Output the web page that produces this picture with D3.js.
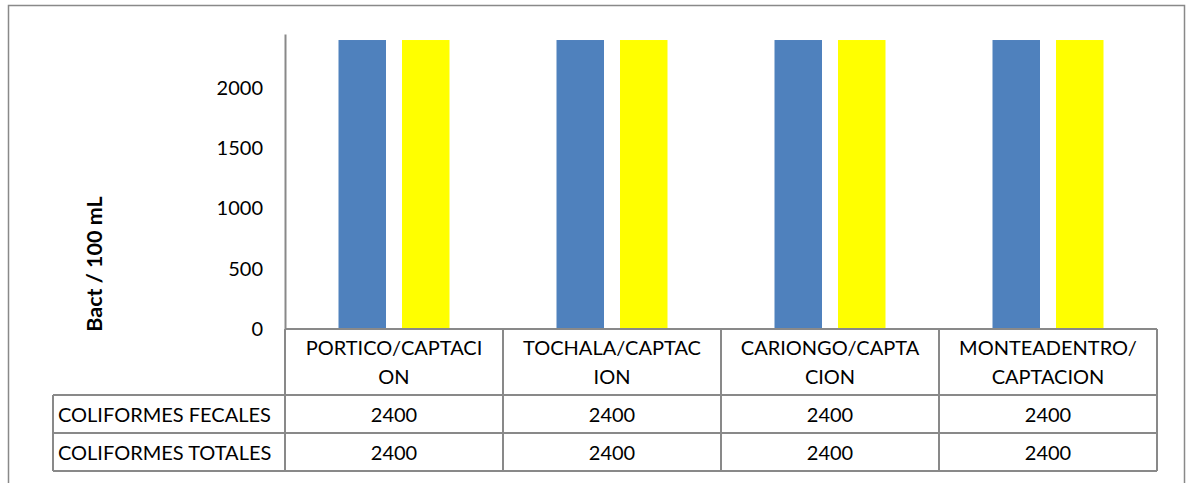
<!DOCTYPE html>
<html>
<head>
<meta charset="utf-8">
<script src="https://cdn.jsdelivr.net/npm/d3@7"></script>
<style>
  html, body { margin: 0; padding: 0; background: #fff; }
  svg { display: block; }
  text { font-family: Lato, "Open Sans", sans-serif; fill: #000; }
</style>
</head>
<body>
<svg id="chart" width="1188" height="483"></svg>
<script>
// Sampling points (water intakes)
const categories = ["PORTICO/CAPTACION", "TOCHALA/CAPTACION", "CARIONGO/CAPTACION", "MONTEADENTRO/CAPTACION"];
// Category captions as they wrap inside the table cells
const categoryLines = [
  ["PORTICO/CAPTACI", "ON"],
  ["TOCHALA/CAPTAC", "ION"],
  ["CARIONGO/CAPTA", "CION"],
  ["MONTEADENTRO/", "CAPTACION"]
];
const seriesNames = ["COLIFORMES FECALES", "COLIFORMES TOTALES"];
const fecales = [2400, 2400, 2400, 2400];
const totales = [2400, 2400, 2400, 2400];
const yTicks = [0, 500, 1000, 1500, 2000];
const yTitle = "Bact / 100 mL";

const seriesValues = [fecales, totales];
const colors = ["#4F81BD", "#FFFF00"];
const gridColor = "#898989";

const svg = d3.select("#chart");

// Outer chart frame
svg.append("rect")
  .attr("x", 8.5).attr("y", 5.5)
  .attr("width", 1176).attr("height", 500)
  .attr("fill", "#fff").attr("stroke", gridColor).attr("stroke-width", 1.5);

const plotLeft = 285, plotRight = 1157, plotTop = 34, plotBottom = 329;
const tableLeft = 53;
const catRowH = 66, valRowH = 38;

const x0 = d3.scaleBand().domain(categories).range([plotLeft, plotRight]);
const x1 = d3.scaleBand().domain(seriesNames)
  .range([53.5, x0.bandwidth() - 53.5]).paddingInner(0.252);
const y = d3.scaleLinear().domain([0, 2450]).range([plotBottom, plotTop]);

// Bars
const g = svg.append("g");
categories.forEach((c, i) => {
  seriesNames.forEach((s, j) => {
    const v = seriesValues[j][i];
    g.append("rect")
      .attr("x", x0(c) + x1(s))
      .attr("y", y(v))
      .attr("width", x1.bandwidth())
      .attr("height", y(0) - y(v))
      .attr("fill", colors[j]);
  });
});

// Value axis
const yAxis = svg.append("g")
  .attr("transform", `translate(${plotLeft},0)`)
  .call(d3.axisLeft(y).tickValues(yTicks).tickSize(0).tickPadding(22).tickFormat(d3.format("d")));
yAxis.select(".domain").attr("stroke", gridColor).attr("stroke-width", 2);
yAxis.selectAll("text")
  .style("font-family", "Lato, 'Open Sans', sans-serif")
  .style("font-size", "20px")
  .attr("fill", "#000");

svg.append("text")
  .attr("transform", "translate(102,264) rotate(-90)")
  .attr("text-anchor", "middle")
  .style("font-size", "21.5px")
  .style("font-weight", "bold")
  .text(yTitle);

// Data table
const t = svg.append("g").attr("stroke", gridColor).attr("stroke-width", 2).attr("fill", "none");
const rowY = [plotBottom, plotBottom + catRowH, plotBottom + catRowH + valRowH, plotBottom + catRowH + 2 * valRowH];
// horizontal rules
t.append("line").attr("x1", plotLeft).attr("x2", plotRight).attr("y1", rowY[0]).attr("y2", rowY[0]);
[1, 2, 3].forEach(k => {
  t.append("line").attr("x1", tableLeft).attr("x2", plotRight).attr("y1", rowY[k]).attr("y2", rowY[k]);
});
// vertical rules
t.append("line").attr("x1", tableLeft).attr("x2", tableLeft).attr("y1", rowY[1]).attr("y2", rowY[3]);
categories.forEach(c => {
  t.append("line").attr("x1", x0(c)).attr("x2", x0(c)).attr("y1", plotBottom).attr("y2", rowY[3]);
});
t.append("line").attr("x1", plotRight).attr("x2", plotRight).attr("y1", plotBottom).attr("y2", rowY[3]);

// category captions
categories.forEach((c, i) => {
  const cx = x0(c) + x0.bandwidth() / 2;
  categoryLines[i].forEach((line, k) => {
    svg.append("text")
      .attr("x", cx).attr("y", plotBottom + 18 + k * 29)
      .attr("text-anchor", "middle").attr("dominant-baseline", "central")
      .style("font-size", "20px")
      .text(line);
  });
});

// series rows
seriesNames.forEach((s, j) => {
  const cy = (rowY[j + 1] + rowY[j + 2]) / 2;
  svg.append("text")
    .attr("x", tableLeft + 5).attr("y", cy)
    .attr("dominant-baseline", "central")
    .style("font-size", "20px")
    .text(s);
  categories.forEach((c, i) => {
    svg.append("text")
      .attr("x", x0(c) + x0.bandwidth() / 2).attr("y", cy)
      .attr("text-anchor", "middle").attr("dominant-baseline", "central")
      .style("font-size", "20px")
      .text(d3.format("d")(seriesValues[j][i]));
  });
});
</script>
</body>
</html>
